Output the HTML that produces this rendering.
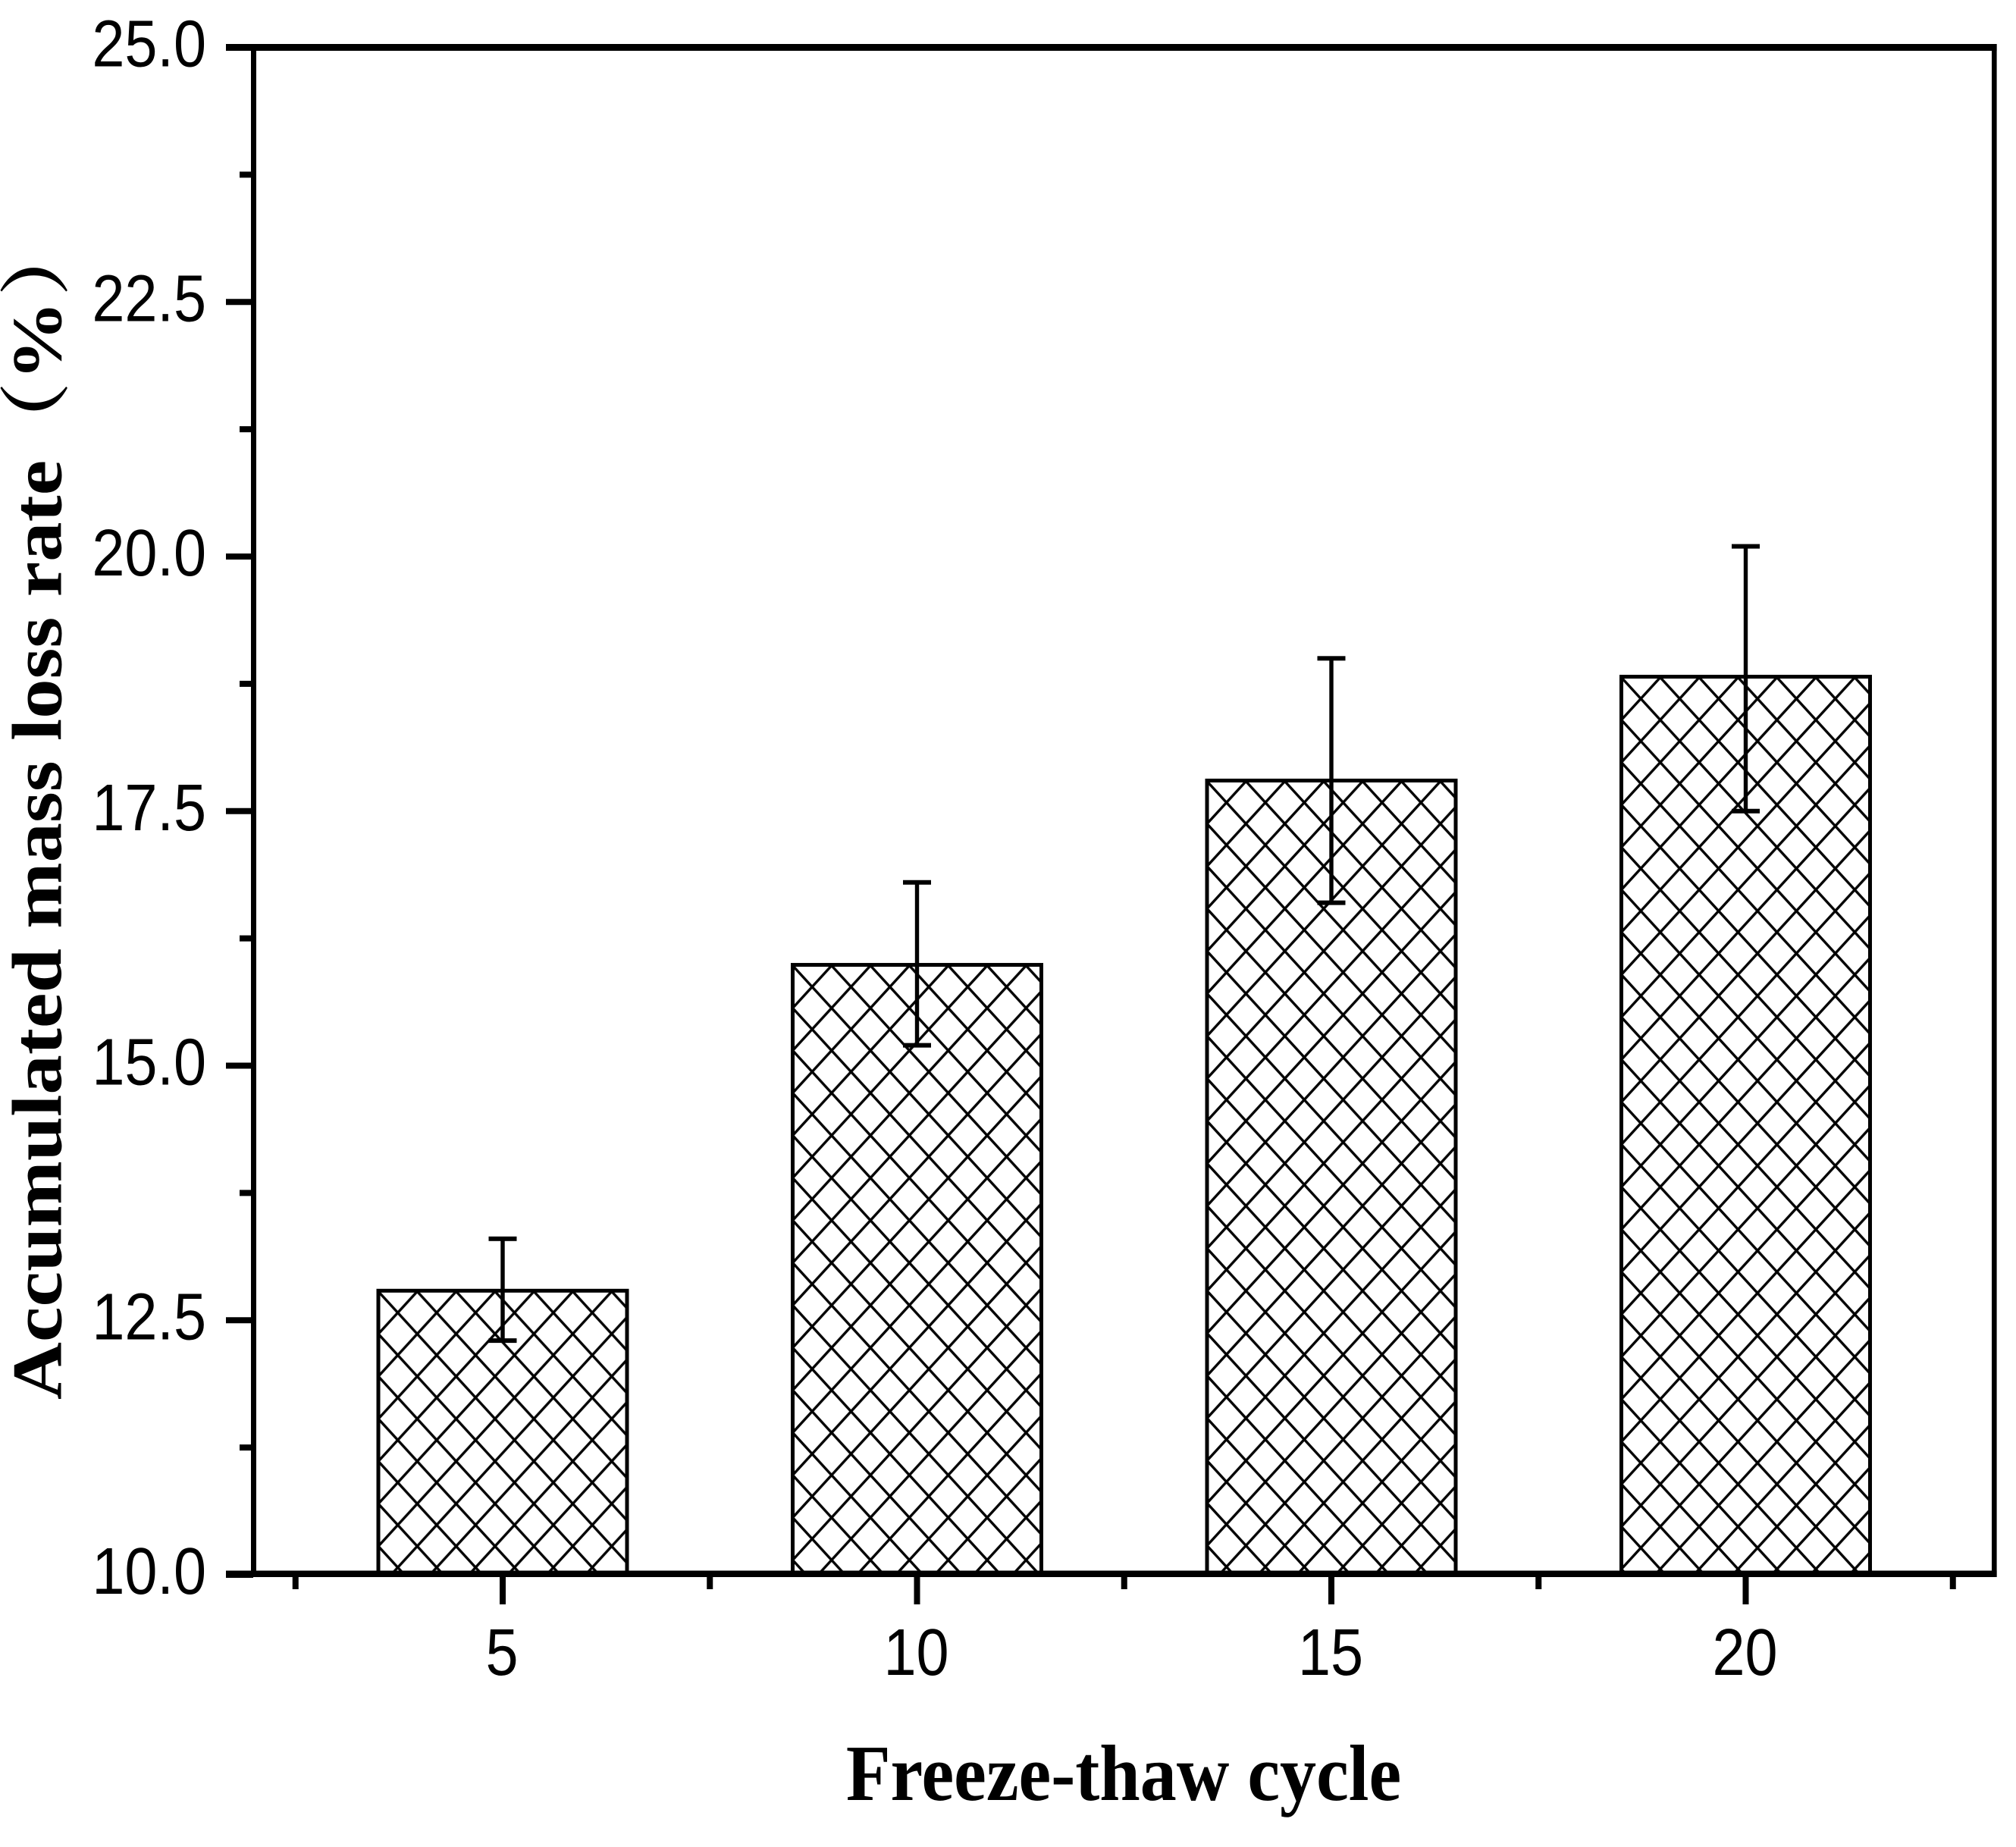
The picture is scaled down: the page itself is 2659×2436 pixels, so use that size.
<!DOCTYPE html>
<html lang="en">
<head>
<meta charset="utf-8">
<title>Accumulated mass loss rate vs freeze-thaw cycle</title>
<style>
html,body{margin:0;padding:0;background:#fff;width:2659px;height:2436px;overflow:hidden}
svg{display:block}
.tick-label{font-family:"Liberation Sans",Arial,sans-serif;font-size:87px;fill:#000}
.axis-title{font-family:"Liberation Serif","Noto Serif CJK SC",serif;font-weight:bold;font-size:105px;fill:#000}
</style>
</head>
<body>
<svg id="chart" xmlns="http://www.w3.org/2000/svg" width="2659" height="2436" viewBox="0 0 2659 2436">
  <rect x="0" y="0" width="2659" height="2436" fill="#fff"/>
  <defs id="defs"></defs>
  <g id="bars"></g>
  <g id="errors"></g>
  <g id="axes">
    <rect x="298" y="58" width="2335.6" height="9" fill="#000"/>
    <rect x="298" y="2071.5" width="2335.6" height="8.5" fill="#000"/>
    <rect x="331" y="58" width="7" height="2022" fill="#000"/>
    <rect x="2627" y="58" width="6.6" height="2022" fill="#000"/>
  </g>
  <g id="ticks"></g>
  <g id="labels"></g>
  <text class="axis-title" text-anchor="middle" transform="translate(1482,2374) scale(0.916,1)">Freeze-thaw cycle</text>
  <text class="axis-title" text-anchor="start" transform="translate(80.5,1846) scale(0.89,1) rotate(-90)">Accumulated mass loss rate<tspan dx="-2">（</tspan><tspan dx="2">%</tspan><tspan dx="6">）</tspan></text>
</svg>
<script>
// Chart data
const categories = [5, 10, 15, 20];
const massLoss = [12.79, 15.99, 17.8, 18.82];
const errorHigh = [13.3, 16.8, 19.0, 20.1];
const errorLow = [12.3, 15.2, 16.6, 17.5];
const yMajorTicks = [10, 12.5, 15, 17.5, 20, 22.5, 25];
const yTickLabels = ['10.0', '12.5', '15.0', '17.5', '20.0', '22.5', '25.0'];
const yMinorTicks = [11.25, 13.75, 16.25, 18.75, 21.25, 23.75];
const xMinorTicks = [2.5, 7.5, 12.5, 17.5, 22.5];

const NS = 'http://www.w3.org/2000/svg';
const xScale = v => 663 + (v - 5) * 109.3;
const yScale = v => 2077 - (v - 10) * 134.3;
const AXIS_Y = 2076;
const BAR_HALF = 164;
const HATCH_W = 51.3;
const HATCH_H = 56;

function make(tag, attrs) {
  const node = document.createElementNS(NS, tag);
  for (const k in attrs) node.setAttribute(k, attrs[k]);
  return node;
}

const defs = document.getElementById('defs');
const barsG = document.getElementById('bars');
const errorsG = document.getElementById('errors');
const ticksG = document.getElementById('ticks');
const labelsG = document.getElementById('labels');

categories.forEach((cat, i) => {
  const cx = xScale(cat);
  const top = yScale(massLoss[i]);
  const left = cx - BAR_HALF;

  const pattern = make('pattern', {
    id: 'hatch-' + i,
    patternUnits: 'userSpaceOnUse',
    width: HATCH_W,
    height: HATCH_H,
    patternTransform: 'translate(' + left + ',' + (top + 1) + ')'
  });
  [-HATCH_W, 0, HATCH_W].forEach(dx => {
    pattern.appendChild(make('line', {x1: dx, y1: 0, x2: dx + HATCH_W, y2: HATCH_H, stroke: '#000', 'stroke-width': 3.4}));
    pattern.appendChild(make('line', {x1: dx + HATCH_W, y1: 0, x2: dx, y2: HATCH_H, stroke: '#000', 'stroke-width': 3.4}));
  });
  defs.appendChild(pattern);

  const bar = make('rect', {
    x: left, y: top, width: BAR_HALF * 2, height: AXIS_Y - top,
    fill: 'url(#hatch-' + i + ')', stroke: '#000', 'stroke-width': 5
  });
  
  
  barsG.appendChild(bar);

  const yHi = yScale(errorHigh[i]);
  const yLo = yScale(errorLow[i]);
  const stem = make('rect', {x: cx - 2.7, y: yHi, width: 5.4, height: yLo - yHi, fill: '#000'});
  
  
  errorsG.appendChild(stem);

  const capTop = make('rect', {x: cx - 18.5, y: yHi - 3, width: 37, height: 6, fill: '#000'});
  
  
  errorsG.appendChild(capTop);

  const capBottom = make('rect', {x: cx - 18.5, y: yLo - 3, width: 37, height: 6, fill: '#000'});
  
  
  errorsG.appendChild(capBottom);

  const tick = make('rect', {x: cx - 4, y: AXIS_Y, width: 8, height: 40, fill: '#000'});
  
  
  ticksG.appendChild(tick);

  const label = make('text', {'class': 'tick-label', 'text-anchor': 'middle', transform: 'translate(' + (cx - 1) + ',2209) scale(0.89,1)'});
  
  
  label.textContent = String(cat);
  labelsG.appendChild(label);
});

xMinorTicks.forEach(v => {
  const tick = make('rect', {x: xScale(v) - 4, y: AXIS_Y, width: 8, height: 20, fill: '#000'});
  
  
  ticksG.appendChild(tick);
});

yMajorTicks.forEach((v, i) => {
  const y = yScale(v);
  const tick = make('rect', {x: 298, y: y - 4, width: 36, height: 8, fill: '#000'});
  
  
  ticksG.appendChild(tick);

  const label = make('text', {'class': 'tick-label', 'text-anchor': 'end', transform: 'translate(272,' + (y + 25) + ') scale(0.89,1)'});
  
  
  label.textContent = yTickLabels[i];
  labelsG.appendChild(label);
});

yMinorTicks.forEach(v => {
  const tick = make('rect', {x: 316, y: yScale(v) - 4, width: 18, height: 8, fill: '#000'});
  
  
  ticksG.appendChild(tick);
});
</script>
</body>
</html>
